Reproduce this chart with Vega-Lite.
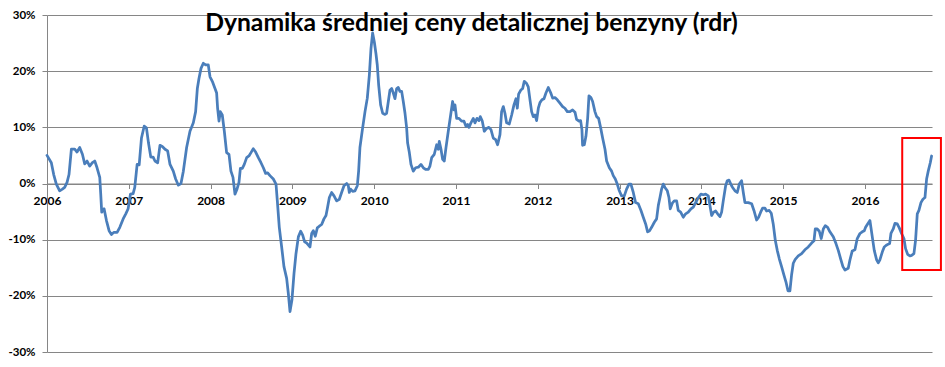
{
  "$schema": "https://vega.github.io/schema/vega-lite/v6.json",
  "autosize": "none",
  "width": 885,
  "height": 337,
  "padding": {"left": 47, "top": 15, "right": 13, "bottom": 15},
  "background": "white",
  "title": {
    "text": "Dynamika średniej ceny detalicznej benzyny (rdr)",
    "anchor": "middle",
    "frame": "group",
    "orient": "top",
    "offset": 0,
    "baseline": "alphabetic",
    "dy": 47,
    "dx": -18,
    "font": "Lato",
    "fontSize": 24.7,
    "fontWeight": "bold",
    "color": "#000000"
  },
  "config": {
    "view": {"stroke": null},
    "axis": {
      "labelFont": "Lato",
      "labelFontWeight": "bold",
      "labelColor": "#000000",
      "domainColor": "#868686",
      "tickColor": "#868686",
      "gridColor": "#868686",
      "gridOpacity": 1,
      "domainOpacity": 1,
      "tickSize": 5,
      "title": null
    }
  },
  "layer": [
    {
      "data": {
        "values": [
          {"rok": 2006.000, "rdr": 5.0}, {"rok": 2006.053, "rdr": 3.7}, {"rok": 2006.082, "rdr": 1.6}, {"rok": 2006.114, "rdr": -0.1},
          {"rok": 2006.155, "rdr": -1.3}, {"rok": 2006.188, "rdr": -1.0}, {"rok": 2006.216, "rdr": -0.7}, {"rok": 2006.245, "rdr": 0.2},
          {"rok": 2006.269, "rdr": 1.6}, {"rok": 2006.298, "rdr": 6.1}, {"rok": 2006.339, "rdr": 6.1}, {"rok": 2006.367, "rdr": 5.6},
          {"rok": 2006.400, "rdr": 6.4}, {"rok": 2006.433, "rdr": 5.2}, {"rok": 2006.461, "rdr": 3.5}, {"rok": 2006.490, "rdr": 4.0},
          {"rok": 2006.522, "rdr": 3.1}, {"rok": 2006.555, "rdr": 3.7}, {"rok": 2006.584, "rdr": 4.0}, {"rok": 2006.612, "rdr": 2.8},
          {"rok": 2006.645, "rdr": 1.1}, {"rok": 2006.657, "rdr": -1.9}, {"rok": 2006.669, "rdr": -5.1}, {"rok": 2006.698, "rdr": -4.5},
          {"rok": 2006.727, "rdr": -6.6}, {"rok": 2006.759, "rdr": -8.4}, {"rok": 2006.788, "rdr": -9.1}, {"rok": 2006.816, "rdr": -8.7},
          {"rok": 2006.857, "rdr": -8.7}, {"rok": 2006.890, "rdr": -7.8}, {"rok": 2006.931, "rdr": -6.3}, {"rok": 2006.963, "rdr": -5.4},
          {"rok": 2006.992, "rdr": -4.5}, {"rok": 2007.020, "rdr": -1.9}, {"rok": 2007.053, "rdr": -1.8}, {"rok": 2007.073, "rdr": -0.7},
          {"rok": 2007.102, "rdr": 3.4}, {"rok": 2007.127, "rdr": 3.3}, {"rok": 2007.155, "rdr": 8.1}, {"rok": 2007.188, "rdr": 10.2},
          {"rok": 2007.216, "rdr": 9.9}, {"rok": 2007.241, "rdr": 7.2}, {"rok": 2007.269, "rdr": 4.7}, {"rok": 2007.298, "rdr": 4.7},
          {"rok": 2007.320, "rdr": 4.0}, {"rok": 2007.353, "rdr": 3.7}, {"rok": 2007.381, "rdr": 6.8}, {"rok": 2007.410, "rdr": 6.6},
          {"rok": 2007.443, "rdr": 6.1}, {"rok": 2007.475, "rdr": 5.8}, {"rok": 2007.504, "rdr": 3.4}, {"rok": 2007.544, "rdr": 2.2},
          {"rok": 2007.573, "rdr": 0.8}, {"rok": 2007.606, "rdr": -0.3}, {"rok": 2007.638, "rdr": 0.0}, {"rok": 2007.667, "rdr": 2.2},
          {"rok": 2007.707, "rdr": 6.4}, {"rok": 2007.748, "rdr": 9.3}, {"rok": 2007.789, "rdr": 10.8}, {"rok": 2007.817, "rdr": 12.8},
          {"rok": 2007.838, "rdr": 16.9}, {"rok": 2007.858, "rdr": 18.7}, {"rok": 2007.883, "rdr": 20.5}, {"rok": 2007.911, "rdr": 21.4},
          {"rok": 2007.940, "rdr": 21.1}, {"rok": 2007.972, "rdr": 21.1}, {"rok": 2007.993, "rdr": 19.0}, {"rok": 2008.021, "rdr": 18.2},
          {"rok": 2008.054, "rdr": 16.9}, {"rok": 2008.074, "rdr": 16.1}, {"rok": 2008.086, "rdr": 13.4}, {"rok": 2008.103, "rdr": 11.1},
          {"rok": 2008.119, "rdr": 12.8}, {"rok": 2008.143, "rdr": 12.2}, {"rok": 2008.168, "rdr": 9.3}, {"rok": 2008.196, "rdr": 5.5},
          {"rok": 2008.225, "rdr": 5.2}, {"rok": 2008.249, "rdr": 2.2}, {"rok": 2008.274, "rdr": 1.1}, {"rok": 2008.298, "rdr": -1.9},
          {"rok": 2008.323, "rdr": -1.0}, {"rok": 2008.347, "rdr": 0.2}, {"rok": 2008.364, "rdr": 2.7}, {"rok": 2008.388, "rdr": 2.7},
          {"rok": 2008.412, "rdr": 3.4}, {"rok": 2008.441, "rdr": 4.6}, {"rok": 2008.469, "rdr": 4.9}, {"rok": 2008.494, "rdr": 5.5},
          {"rok": 2008.522, "rdr": 6.2}, {"rok": 2008.551, "rdr": 5.6}, {"rok": 2008.584, "rdr": 4.6}, {"rok": 2008.616, "rdr": 3.7},
          {"rok": 2008.645, "rdr": 2.8}, {"rok": 2008.673, "rdr": 1.8}, {"rok": 2008.698, "rdr": 1.9}, {"rok": 2008.726, "rdr": 1.4},
          {"rok": 2008.767, "rdr": 0.8}, {"rok": 2008.800, "rdr": -0.1}, {"rok": 2008.816, "rdr": -3.1}, {"rok": 2008.840, "rdr": -7.8},
          {"rok": 2008.869, "rdr": -11.3}, {"rok": 2008.897, "rdr": -14.8}, {"rok": 2008.930, "rdr": -16.9}, {"rok": 2008.950, "rdr": -19.5},
          {"rok": 2008.971, "rdr": -22.8}, {"rok": 2008.995, "rdr": -20.7}, {"rok": 2009.020, "rdr": -16.0}, {"rok": 2009.044, "rdr": -12.5},
          {"rok": 2009.073, "rdr": -9.5}, {"rok": 2009.101, "rdr": -8.5}, {"rok": 2009.126, "rdr": -9.2}, {"rok": 2009.150, "rdr": -10.4},
          {"rok": 2009.175, "rdr": -10.6}, {"rok": 2009.199, "rdr": -11.0}, {"rok": 2009.215, "rdr": -11.3}, {"rok": 2009.236, "rdr": -8.9},
          {"rok": 2009.256, "rdr": -8.4}, {"rok": 2009.280, "rdr": -9.4}, {"rok": 2009.305, "rdr": -7.9}, {"rok": 2009.329, "rdr": -7.6},
          {"rok": 2009.358, "rdr": -7.3}, {"rok": 2009.386, "rdr": -6.3}, {"rok": 2009.411, "rdr": -5.7}, {"rok": 2009.427, "rdr": -4.5},
          {"rok": 2009.452, "rdr": -2.5}, {"rok": 2009.480, "rdr": -1.6}, {"rok": 2009.509, "rdr": -2.2}, {"rok": 2009.541, "rdr": -3.1},
          {"rok": 2009.574, "rdr": -2.8}, {"rok": 2009.602, "rdr": -1.6}, {"rok": 2009.631, "rdr": -0.4}, {"rok": 2009.664, "rdr": 0.0},
          {"rok": 2009.684, "rdr": -0.4}, {"rok": 2009.696, "rdr": -1.6}, {"rok": 2009.712, "rdr": -1.0}, {"rok": 2009.737, "rdr": -1.4},
          {"rok": 2009.765, "rdr": -1.3}, {"rok": 2009.794, "rdr": -0.4}, {"rok": 2009.810, "rdr": 2.2}, {"rok": 2009.826, "rdr": 6.4},
          {"rok": 2009.859, "rdr": 9.9}, {"rok": 2009.888, "rdr": 12.8}, {"rok": 2009.916, "rdr": 15.2}, {"rok": 2009.941, "rdr": 19.3},
          {"rok": 2009.961, "rdr": 24.0}, {"rok": 2009.981, "rdr": 26.8}, {"rok": 2010.002, "rdr": 25.2}, {"rok": 2010.022, "rdr": 23.1},
          {"rok": 2010.038, "rdr": 21.1}, {"rok": 2010.055, "rdr": 17.5}, {"rok": 2010.079, "rdr": 14.0}, {"rok": 2010.104, "rdr": 12.5},
          {"rok": 2010.132, "rdr": 12.3}, {"rok": 2010.152, "rdr": 12.5}, {"rok": 2010.173, "rdr": 14.6}, {"rok": 2010.193, "rdr": 16.6},
          {"rok": 2010.214, "rdr": 16.9}, {"rok": 2010.234, "rdr": 16.1}, {"rok": 2010.254, "rdr": 15.1}, {"rok": 2010.275, "rdr": 16.9},
          {"rok": 2010.295, "rdr": 17.1}, {"rok": 2010.315, "rdr": 16.4}, {"rok": 2010.336, "rdr": 16.4}, {"rok": 2010.356, "rdr": 14.6},
          {"rok": 2010.377, "rdr": 12.5}, {"rok": 2010.397, "rdr": 9.9}, {"rok": 2010.409, "rdr": 7.2}, {"rok": 2010.430, "rdr": 5.5},
          {"rok": 2010.450, "rdr": 3.4}, {"rok": 2010.478, "rdr": 2.2}, {"rok": 2010.507, "rdr": 2.8}, {"rok": 2010.540, "rdr": 2.9},
          {"rok": 2010.572, "rdr": 3.4}, {"rok": 2010.601, "rdr": 2.8}, {"rok": 2010.629, "rdr": 2.5}, {"rok": 2010.662, "rdr": 2.5},
          {"rok": 2010.682, "rdr": 3.1}, {"rok": 2010.703, "rdr": 4.6}, {"rok": 2010.735, "rdr": 5.2}, {"rok": 2010.764, "rdr": 6.9},
          {"rok": 2010.784, "rdr": 6.1}, {"rok": 2010.796, "rdr": 7.5}, {"rok": 2010.817, "rdr": 6.1}, {"rok": 2010.837, "rdr": 4.3},
          {"rok": 2010.857, "rdr": 4.0}, {"rok": 2010.878, "rdr": 6.4}, {"rok": 2010.906, "rdr": 9.3}, {"rok": 2010.935, "rdr": 12.2},
          {"rok": 2010.959, "rdr": 14.6}, {"rok": 2010.976, "rdr": 13.1}, {"rok": 2010.988, "rdr": 14.0}, {"rok": 2011.008, "rdr": 11.6},
          {"rok": 2011.037, "rdr": 11.6}, {"rok": 2011.069, "rdr": 11.1}, {"rok": 2011.098, "rdr": 11.1}, {"rok": 2011.122, "rdr": 10.2},
          {"rok": 2011.143, "rdr": 10.5}, {"rok": 2011.159, "rdr": 10.0}, {"rok": 2011.183, "rdr": 10.8}, {"rok": 2011.212, "rdr": 11.6},
          {"rok": 2011.232, "rdr": 10.8}, {"rok": 2011.257, "rdr": 11.6}, {"rok": 2011.281, "rdr": 11.2}, {"rok": 2011.297, "rdr": 11.9},
          {"rok": 2011.322, "rdr": 11.1}, {"rok": 2011.346, "rdr": 9.3}, {"rok": 2011.375, "rdr": 9.8}, {"rok": 2011.403, "rdr": 10.0},
          {"rok": 2011.428, "rdr": 9.6}, {"rok": 2011.456, "rdr": 8.1}, {"rok": 2011.485, "rdr": 7.8}, {"rok": 2011.509, "rdr": 6.9},
          {"rok": 2011.538, "rdr": 8.7}, {"rok": 2011.558, "rdr": 12.8}, {"rok": 2011.579, "rdr": 13.7}, {"rok": 2011.599, "rdr": 12.5},
          {"rok": 2011.619, "rdr": 10.8}, {"rok": 2011.652, "rdr": 10.6}, {"rok": 2011.681, "rdr": 12.2}, {"rok": 2011.709, "rdr": 14.0},
          {"rok": 2011.734, "rdr": 15.1}, {"rok": 2011.750, "rdr": 13.4}, {"rok": 2011.766, "rdr": 15.9}, {"rok": 2011.791, "rdr": 16.6},
          {"rok": 2011.815, "rdr": 16.9}, {"rok": 2011.835, "rdr": 18.2}, {"rok": 2011.864, "rdr": 17.8}, {"rok": 2011.884, "rdr": 17.2},
          {"rok": 2011.905, "rdr": 14.9}, {"rok": 2011.925, "rdr": 12.8}, {"rok": 2011.945, "rdr": 11.9}, {"rok": 2011.966, "rdr": 12.2},
          {"rok": 2011.986, "rdr": 11.2}, {"rok": 2012.007, "rdr": 13.4}, {"rok": 2012.027, "rdr": 14.4}, {"rok": 2012.051, "rdr": 14.9},
          {"rok": 2012.076, "rdr": 15.1}, {"rok": 2012.100, "rdr": 16.1}, {"rok": 2012.129, "rdr": 17.1}, {"rok": 2012.157, "rdr": 16.2},
          {"rok": 2012.182, "rdr": 15.2}, {"rok": 2012.210, "rdr": 15.3}, {"rok": 2012.239, "rdr": 14.9}, {"rok": 2012.271, "rdr": 14.3},
          {"rok": 2012.304, "rdr": 13.7}, {"rok": 2012.332, "rdr": 13.4}, {"rok": 2012.361, "rdr": 12.8}, {"rok": 2012.394, "rdr": 12.8},
          {"rok": 2012.426, "rdr": 13.1}, {"rok": 2012.455, "rdr": 12.7}, {"rok": 2012.475, "rdr": 11.4}, {"rok": 2012.504, "rdr": 11.1},
          {"rok": 2012.524, "rdr": 11.2}, {"rok": 2012.540, "rdr": 9.6}, {"rok": 2012.548, "rdr": 6.8}, {"rok": 2012.569, "rdr": 6.9},
          {"rok": 2012.589, "rdr": 8.4}, {"rok": 2012.610, "rdr": 11.6}, {"rok": 2012.626, "rdr": 15.6}, {"rok": 2012.650, "rdr": 15.3},
          {"rok": 2012.671, "rdr": 14.6}, {"rok": 2012.699, "rdr": 12.8}, {"rok": 2012.720, "rdr": 11.9}, {"rok": 2012.744, "rdr": 11.6},
          {"rok": 2012.769, "rdr": 9.9}, {"rok": 2012.793, "rdr": 8.1}, {"rok": 2012.822, "rdr": 6.1}, {"rok": 2012.842, "rdr": 4.0},
          {"rok": 2012.875, "rdr": 2.8}, {"rok": 2012.903, "rdr": 2.2}, {"rok": 2012.923, "rdr": 1.4}, {"rok": 2012.948, "rdr": 0.8},
          {"rok": 2012.972, "rdr": -0.1}, {"rok": 2012.997, "rdr": -1.3}, {"rok": 2013.025, "rdr": -2.2}, {"rok": 2013.058, "rdr": -2.2},
          {"rok": 2013.086, "rdr": -1.0}, {"rok": 2013.115, "rdr": -0.1}, {"rok": 2013.139, "rdr": -0.1}, {"rok": 2013.168, "rdr": -1.6},
          {"rok": 2013.196, "rdr": -3.4}, {"rok": 2013.229, "rdr": -3.6}, {"rok": 2013.262, "rdr": -4.8}, {"rok": 2013.290, "rdr": -6.0},
          {"rok": 2013.319, "rdr": -7.2}, {"rok": 2013.343, "rdr": -8.6}, {"rok": 2013.368, "rdr": -8.4}, {"rok": 2013.392, "rdr": -7.8},
          {"rok": 2013.425, "rdr": -6.9}, {"rok": 2013.453, "rdr": -6.3}, {"rok": 2013.474, "rdr": -3.9}, {"rok": 2013.494, "rdr": -2.5},
          {"rok": 2013.514, "rdr": -1.0}, {"rok": 2013.535, "rdr": -0.1}, {"rok": 2013.555, "rdr": -0.7}, {"rok": 2013.584, "rdr": -1.3},
          {"rok": 2013.604, "rdr": -2.5}, {"rok": 2013.620, "rdr": -4.5}, {"rok": 2013.645, "rdr": -3.5}, {"rok": 2013.669, "rdr": -3.1},
          {"rok": 2013.698, "rdr": -3.1}, {"rok": 2013.718, "rdr": -4.8}, {"rok": 2013.747, "rdr": -5.1}, {"rok": 2013.779, "rdr": -6.0},
          {"rok": 2013.808, "rdr": -5.4}, {"rok": 2013.840, "rdr": -5.1}, {"rok": 2013.873, "rdr": -4.5}, {"rok": 2013.902, "rdr": -4.2},
          {"rok": 2013.930, "rdr": -3.4}, {"rok": 2013.963, "rdr": -2.5}, {"rok": 2013.995, "rdr": -1.9}, {"rok": 2014.024, "rdr": -2.0},
          {"rok": 2014.052, "rdr": -1.9}, {"rok": 2014.085, "rdr": -2.2}, {"rok": 2014.105, "rdr": -3.9}, {"rok": 2014.126, "rdr": -5.7},
          {"rok": 2014.150, "rdr": -5.1}, {"rok": 2014.175, "rdr": -4.9}, {"rok": 2014.199, "rdr": -5.4}, {"rok": 2014.228, "rdr": -5.9},
          {"rok": 2014.248, "rdr": -5.1}, {"rok": 2014.268, "rdr": -3.1}, {"rok": 2014.297, "rdr": -0.4}, {"rok": 2014.317, "rdr": 0.5},
          {"rok": 2014.338, "rdr": 0.6}, {"rok": 2014.370, "rdr": -0.4}, {"rok": 2014.382, "rdr": -0.7}, {"rok": 2014.411, "rdr": -1.3},
          {"rok": 2014.439, "rdr": -1.6}, {"rok": 2014.464, "rdr": -0.1}, {"rok": 2014.492, "rdr": 0.5}, {"rok": 2014.513, "rdr": -1.6},
          {"rok": 2014.533, "rdr": -3.4}, {"rok": 2014.574, "rdr": -3.4}, {"rok": 2014.615, "rdr": -3.6}, {"rok": 2014.643, "rdr": -4.8},
          {"rok": 2014.676, "rdr": -6.5}, {"rok": 2014.700, "rdr": -6.0}, {"rok": 2014.725, "rdr": -5.1}, {"rok": 2014.749, "rdr": -4.4},
          {"rok": 2014.778, "rdr": -4.4}, {"rok": 2014.798, "rdr": -4.9}, {"rok": 2014.830, "rdr": -4.8}, {"rok": 2014.855, "rdr": -5.3},
          {"rok": 2014.879, "rdr": -7.2}, {"rok": 2014.904, "rdr": -10.1}, {"rok": 2014.928, "rdr": -11.9}, {"rok": 2014.953, "rdr": -13.4},
          {"rok": 2014.981, "rdr": -14.8}, {"rok": 2015.010, "rdr": -16.3}, {"rok": 2015.034, "rdr": -17.5}, {"rok": 2015.059, "rdr": -19.1},
          {"rok": 2015.083, "rdr": -19.1}, {"rok": 2015.103, "rdr": -16.3}, {"rok": 2015.124, "rdr": -14.2}, {"rok": 2015.148, "rdr": -13.5},
          {"rok": 2015.185, "rdr": -12.9}, {"rok": 2015.226, "rdr": -12.5}, {"rok": 2015.266, "rdr": -11.8}, {"rok": 2015.307, "rdr": -11.3},
          {"rok": 2015.348, "rdr": -10.6}, {"rok": 2015.377, "rdr": -10.2}, {"rok": 2015.393, "rdr": -8.1}, {"rok": 2015.417, "rdr": -8.1},
          {"rok": 2015.442, "rdr": -8.5}, {"rok": 2015.466, "rdr": -9.8}, {"rok": 2015.491, "rdr": -8.1}, {"rok": 2015.515, "rdr": -7.5},
          {"rok": 2015.544, "rdr": -7.8}, {"rok": 2015.572, "rdr": -8.6}, {"rok": 2015.613, "rdr": -9.5}, {"rok": 2015.646, "rdr": -10.7},
          {"rok": 2015.674, "rdr": -11.9}, {"rok": 2015.703, "rdr": -13.4}, {"rok": 2015.731, "rdr": -14.8}, {"rok": 2015.756, "rdr": -15.4},
          {"rok": 2015.796, "rdr": -15.1}, {"rok": 2015.817, "rdr": -13.6}, {"rok": 2015.845, "rdr": -12.0}, {"rok": 2015.878, "rdr": -11.8},
          {"rok": 2015.906, "rdr": -9.8}, {"rok": 2015.939, "rdr": -8.9}, {"rok": 2015.967, "rdr": -8.6}, {"rok": 2015.992, "rdr": -8.4},
          {"rok": 2016.008, "rdr": -7.8}, {"rok": 2016.033, "rdr": -7.2}, {"rok": 2016.061, "rdr": -6.6}, {"rok": 2016.073, "rdr": -7.8},
          {"rok": 2016.090, "rdr": -9.5}, {"rok": 2016.114, "rdr": -11.9}, {"rok": 2016.143, "rdr": -13.6}, {"rok": 2016.163, "rdr": -14.1},
          {"rok": 2016.183, "rdr": -13.6}, {"rok": 2016.212, "rdr": -12.2}, {"rok": 2016.236, "rdr": -11.3}, {"rok": 2016.261, "rdr": -11.0},
          {"rok": 2016.285, "rdr": -10.8}, {"rok": 2016.302, "rdr": -10.7}, {"rok": 2016.318, "rdr": -8.9}, {"rok": 2016.346, "rdr": -8.1},
          {"rok": 2016.367, "rdr": -7.1}, {"rok": 2016.395, "rdr": -7.2}, {"rok": 2016.420, "rdr": -7.9}, {"rok": 2016.448, "rdr": -8.9},
          {"rok": 2016.477, "rdr": -9.8}, {"rok": 2016.497, "rdr": -11.6}, {"rok": 2016.522, "rdr": -12.6}, {"rok": 2016.550, "rdr": -12.9},
          {"rok": 2016.571, "rdr": -12.8}, {"rok": 2016.599, "rdr": -12.5}, {"rok": 2016.619, "rdr": -10.1}, {"rok": 2016.640, "rdr": -5.4},
          {"rok": 2016.660, "rdr": -4.8}, {"rok": 2016.685, "rdr": -3.4}, {"rok": 2016.709, "rdr": -2.8}, {"rok": 2016.734, "rdr": -2.5},
          {"rok": 2016.754, "rdr": 0.8}, {"rok": 2016.774, "rdr": 2.2}, {"rok": 2016.799, "rdr": 3.7}, {"rok": 2016.815, "rdr": 4.9}
        ]
      },
      "mark": {"type": "line", "color": "#4A7EBB", "strokeWidth": 2.75, "strokeJoin": "round", "strokeCap": "round", "interpolate": "linear"},
      "encoding": {
        "x": {
          "field": "rok",
          "type": "quantitative",
          "scale": {"domain": [2006, 2016.82], "nice": false, "zero": false},
          "axis": {
            "orient": "bottom",
            "offset": -168.5,
            "values": [2006, 2007, 2008, 2009, 2010, 2011, 2012, 2013, 2014, 2015, 2016],
            "format": "d",
            "grid": false,
            "labelFontSize": 12,
            "labelPadding": 7,
            "labelFlush": false,
            "labelOverlap": false
          }
        },
        "y": {
          "field": "rdr",
          "type": "quantitative",
          "scale": {"domain": [-30, 30], "nice": false},
          "axis": {
            "values": [-30, -20, -10, 0, 10, 20, 30],
            "labelExpr": "datum.value + '%'",
            "grid": true,
            "labelFontSize": 11.5,
            "labelPadding": 7
          }
        }
      }
    },
    {
      "data": {"values": [{"od": 2016.456, "do": 2016.929, "gora": 8.1, "dol": -15.4}]},
      "mark": {"type": "rect", "fill": null, "fillOpacity": 0, "stroke": "#FF0000", "strokeWidth": 2, "clip": false},
      "encoding": {
        "x": {"field": "od", "type": "quantitative", "scale": {"domain": [2006, 2016.82], "nice": false, "zero": false}},
        "x2": {"field": "do"},
        "y": {"field": "gora", "type": "quantitative", "scale": {"domain": [-30, 30], "nice": false}},
        "y2": {"field": "dol"}
      }
    }
  ]
}
